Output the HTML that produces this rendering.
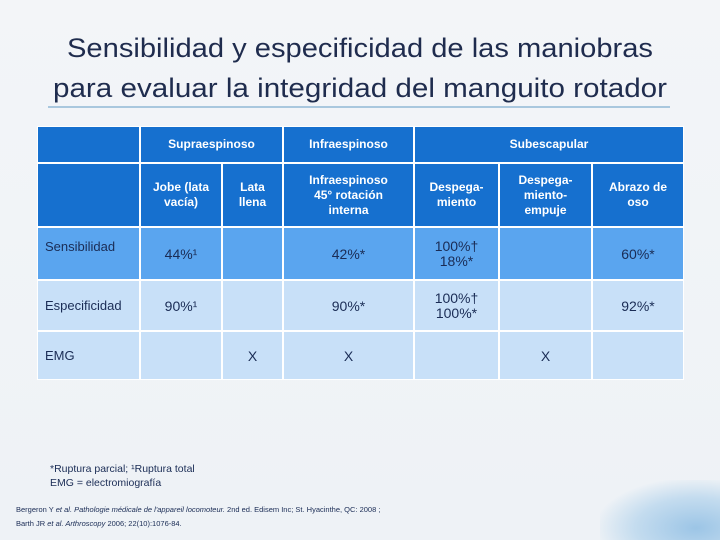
<!DOCTYPE html>
<html><head><meta charset="utf-8"><style>
html,body{margin:0;width:720px;height:540px;overflow:hidden;font-family:"Liberation Sans",sans-serif;}
#slide{position:relative;width:720px;height:540px;overflow:hidden;background:linear-gradient(180deg,#f3f5f8 0%,#eef2f6 100%);}
.c{position:absolute;box-sizing:border-box;display:flex;align-items:center;justify-content:center;text-align:center;border:1.5px solid #fff;}
.h{background:#1670cf;color:#fff;font-weight:bold;font-size:12px;line-height:15px;}
.s{background:#5aa5ef;color:#1a2c55;font-size:14px;}
.e{background:#c8e0f8;color:#1a2c55;font-size:14px;}
.l{justify-content:flex-start;padding-left:7px;font-size:13px;}
</style></head><body>
<div id="slide">
<svg width="720" height="120" style="position:absolute;left:0;top:0">
<text x="360" y="57" text-anchor="middle" font-family="Liberation Sans, sans-serif" font-size="27" fill="#1f2c4e" textLength="586" lengthAdjust="spacingAndGlyphs">Sensibilidad y especificidad  de las maniobras</text>
<text x="360" y="97" text-anchor="middle" font-family="Liberation Sans, sans-serif" font-size="27" fill="#1f2c4e" textLength="614" lengthAdjust="spacingAndGlyphs">para evaluar la integridad del manguito rotador</text>
<line x1="48" y1="107" x2="670" y2="107" stroke="#a9c7de" stroke-width="2"/>
</svg>
<div>
<div class="c h" style="left:37px;top:126px;width:103px;height:37px"></div>
<div class="c h" style="left:140px;top:126px;width:143px;height:37px">Supraespinoso</div>
<div class="c h" style="left:283px;top:126px;width:131px;height:37px">Infraespinoso</div>
<div class="c h" style="left:414px;top:126px;width:270px;height:37px">Subescapular</div>
<div class="c h" style="left:37px;top:163px;width:103px;height:64px"></div>
<div class="c h" style="left:140px;top:163px;width:82px;height:64px">Jobe (lata<br>vacía)</div>
<div class="c h" style="left:222px;top:163px;width:61px;height:64px">Lata<br>llena</div>
<div class="c h" style="left:283px;top:163px;width:131px;height:64px">Infraespinoso<br>45° rotación<br>interna</div>
<div class="c h" style="left:414px;top:163px;width:85px;height:64px">Despega-<br>miento</div>
<div class="c h" style="left:499px;top:163px;width:93px;height:64px">Despega-<br>miento-<br>empuje</div>
<div class="c h" style="left:592px;top:163px;width:92px;height:64px">Abrazo de<br>oso</div>

<div class="c s l" style="left:37px;top:227px;width:103px;height:53px;align-items:flex-start;padding-top:11px">Sensibilidad</div>
<div class="c s" style="left:140px;top:227px;width:82px;height:53px">44%¹</div>
<div class="c s" style="left:222px;top:227px;width:61px;height:53px"></div>
<div class="c s" style="left:283px;top:227px;width:131px;height:53px">42%*</div>
<div class="c s" style="left:414px;top:227px;width:85px;height:53px;line-height:15px">100%†<br>18%*</div>
<div class="c s" style="left:499px;top:227px;width:93px;height:53px"></div>
<div class="c s" style="left:592px;top:227px;width:92px;height:53px">60%*</div>

<div class="c e l" style="left:37px;top:280px;width:103px;height:51px">Especificidad</div>
<div class="c e" style="left:140px;top:280px;width:82px;height:51px">90%¹</div>
<div class="c e" style="left:222px;top:280px;width:61px;height:51px"></div>
<div class="c e" style="left:283px;top:280px;width:131px;height:51px">90%*</div>
<div class="c e" style="left:414px;top:280px;width:85px;height:51px;line-height:15px">100%†<br>100%*</div>
<div class="c e" style="left:499px;top:280px;width:93px;height:51px"></div>
<div class="c e" style="left:592px;top:280px;width:92px;height:51px">92%*</div>

<div class="c e l" style="left:37px;top:331px;width:103px;height:49px">EMG</div>
<div class="c e" style="left:140px;top:331px;width:82px;height:49px"></div>
<div class="c e" style="left:222px;top:331px;width:61px;height:49px">X</div>
<div class="c e" style="left:283px;top:331px;width:131px;height:49px">X</div>
<div class="c e" style="left:414px;top:331px;width:85px;height:49px"></div>
<div class="c e" style="left:499px;top:331px;width:93px;height:49px">X</div>
<div class="c e" style="left:592px;top:331px;width:92px;height:49px"></div>
</div>
<div style="position:absolute;left:50px;top:462px;font-size:10.5px;line-height:14px;color:#1a2c55">*Ruptura parcial; ¹Ruptura total<br>EMG = electromiografía</div>
<div style="position:absolute;left:16px;top:503px;font-size:7.5px;line-height:14px;color:#1a2c55;white-space:nowrap">Bergeron Y <i>et al. Pathologie médicale de l'appareil locomoteur.</i> 2nd ed. Edisem Inc; St. Hyacinthe, QC: 2008 ;<br>Barth JR <i>et al. Arthroscopy</i> 2006; 22(10):1076-84.</div>
<div style="position:absolute;left:600px;top:480px;width:120px;height:60px;background:radial-gradient(ellipse at 80% 80%,#9cc5e6 0%,#c4dcef 45%,rgba(238,242,246,0) 75%)"></div>
</div>
</body></html>
